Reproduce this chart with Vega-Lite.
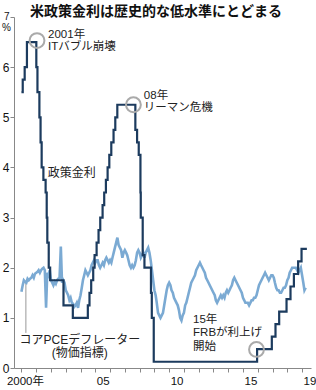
{
  "$schema": "https://vega.github.io/schema/vega-lite/v6.json",
  "width": 297,
  "height": 351,
  "autosize": "none",
  "padding": {"left": 14, "top": 17, "right": 5, "bottom": 22},
  "title": {"text": "米政策金利は歴史的な低水準にとどまる", "anchor": "start", "frame": "group", "dx": 16, "dy": 23, "offset": 1, "baseline": "bottom", "fontSize": 14, "fontWeight": "bold", "font": "Noto Sans CJK JP", "color": "#111"},
  "config": {"view": {"stroke": null}, "font": "Liberation Sans, Noto Sans CJK JP"},
  "datasets": {
    "pce": [
      {"date":"2000-01","v":1.52},{"date":"2000-02","v":1.65},{"date":"2000-03","v":1.75},{"date":"2000-04","v":1.72},{"date":"2000-05","v":1.70},{"date":"2000-06","v":1.78},{"date":"2000-07","v":1.75},{"date":"2000-08","v":1.78},{"date":"2000-09","v":1.80},{"date":"2000-10","v":1.85},{"date":"2000-11","v":1.80},{"date":"2000-12","v":1.88},
      {"date":"2001-01","v":1.90},{"date":"2001-02","v":1.92},{"date":"2001-03","v":1.95},{"date":"2001-04","v":1.90},{"date":"2001-05","v":1.95},{"date":"2001-06","v":1.98},{"date":"2001-07","v":2.00},{"date":"2001-08","v":1.95},{"date":"2001-09","v":1.20},{"date":"2001-10","v":1.90},{"date":"2001-11","v":1.85},{"date":"2001-12","v":1.95},
      {"date":"2002-01","v":1.75},{"date":"2002-02","v":1.70},{"date":"2002-03","v":1.65},{"date":"2002-04","v":1.72},{"date":"2002-05","v":1.68},{"date":"2002-06","v":1.75},{"date":"2002-07","v":1.78},{"date":"2002-08","v":1.80},{"date":"2002-09","v":2.42},{"date":"2002-10","v":1.70},{"date":"2002-11","v":1.75},{"date":"2002-12","v":1.70},
      {"date":"2003-01","v":1.55},{"date":"2003-02","v":1.50},{"date":"2003-03","v":1.45},{"date":"2003-04","v":1.35},{"date":"2003-05","v":1.40},{"date":"2003-06","v":1.30},{"date":"2003-07","v":1.28},{"date":"2003-08","v":1.22},{"date":"2003-09","v":1.25},{"date":"2003-10","v":1.30},{"date":"2003-11","v":1.20},{"date":"2003-12","v":1.35},
      {"date":"2004-01","v":1.45},{"date":"2004-02","v":1.60},{"date":"2004-03","v":1.75},{"date":"2004-04","v":1.85},{"date":"2004-05","v":1.95},{"date":"2004-06","v":1.90},{"date":"2004-07","v":1.85},{"date":"2004-08","v":1.90},{"date":"2004-09","v":1.95},{"date":"2004-10","v":2.05},{"date":"2004-11","v":2.10},{"date":"2004-12","v":2.15},
      {"date":"2005-01","v":2.10},{"date":"2005-02","v":2.15},{"date":"2005-03","v":2.15},{"date":"2005-04","v":2.05},{"date":"2005-05","v":2.00},{"date":"2005-06","v":2.05},{"date":"2005-07","v":2.10},{"date":"2005-08","v":2.05},{"date":"2005-09","v":2.15},{"date":"2005-10","v":2.20},{"date":"2005-11","v":2.15},{"date":"2005-12","v":2.10},
      {"date":"2006-01","v":2.15},{"date":"2006-02","v":2.10},{"date":"2006-03","v":2.20},{"date":"2006-04","v":2.30},{"date":"2006-05","v":2.40},{"date":"2006-06","v":2.50},{"date":"2006-07","v":2.60},{"date":"2006-08","v":2.45},{"date":"2006-09","v":2.40},{"date":"2006-10","v":2.35},{"date":"2006-11","v":2.20},{"date":"2006-12","v":2.30},
      {"date":"2007-01","v":2.35},{"date":"2007-02","v":2.30},{"date":"2007-03","v":2.25},{"date":"2007-04","v":2.15},{"date":"2007-05","v":2.05},{"date":"2007-06","v":2.00},{"date":"2007-07","v":2.05},{"date":"2007-08","v":2.00},{"date":"2007-09","v":2.05},{"date":"2007-10","v":2.15},{"date":"2007-11","v":2.30},{"date":"2007-12","v":2.35},
      {"date":"2008-01","v":2.30},{"date":"2008-02","v":2.20},{"date":"2008-03","v":2.25},{"date":"2008-04","v":2.30},{"date":"2008-05","v":2.20},{"date":"2008-06","v":2.30},{"date":"2008-07","v":2.35},{"date":"2008-08","v":2.40},{"date":"2008-09","v":2.30},{"date":"2008-10","v":2.15},{"date":"2008-11","v":1.95},{"date":"2008-12","v":1.75},
      {"date":"2009-01","v":1.55},{"date":"2009-02","v":1.45},{"date":"2009-03","v":1.30},{"date":"2009-04","v":1.10},{"date":"2009-05","v":1.05},{"date":"2009-06","v":1.00},{"date":"2009-07","v":1.05},{"date":"2009-08","v":1.10},{"date":"2009-09","v":1.25},{"date":"2009-10","v":1.40},{"date":"2009-11","v":1.55},{"date":"2009-12","v":1.65},
      {"date":"2010-01","v":1.70},{"date":"2010-02","v":1.65},{"date":"2010-03","v":1.55},{"date":"2010-04","v":1.50},{"date":"2010-05","v":1.40},{"date":"2010-06","v":1.35},{"date":"2010-07","v":1.30},{"date":"2010-08","v":1.25},{"date":"2010-09","v":1.15},{"date":"2010-10","v":1.00},{"date":"2010-11","v":0.95},{"date":"2010-12","v":1.05},
      {"date":"2011-01","v":1.10},{"date":"2011-02","v":1.25},{"date":"2011-03","v":1.30},{"date":"2011-04","v":1.40},{"date":"2011-05","v":1.50},{"date":"2011-06","v":1.60},{"date":"2011-07","v":1.70},{"date":"2011-08","v":1.75},{"date":"2011-09","v":1.80},{"date":"2011-10","v":1.85},{"date":"2011-11","v":1.95},{"date":"2011-12","v":2.00},
      {"date":"2012-01","v":2.05},{"date":"2012-02","v":2.10},{"date":"2012-03","v":2.05},{"date":"2012-04","v":2.00},{"date":"2012-05","v":1.95},{"date":"2012-06","v":1.90},{"date":"2012-07","v":1.80},{"date":"2012-08","v":1.75},{"date":"2012-09","v":1.70},{"date":"2012-10","v":1.65},{"date":"2012-11","v":1.60},{"date":"2012-12","v":1.55},
      {"date":"2013-01","v":1.50},{"date":"2013-02","v":1.45},{"date":"2013-03","v":1.35},{"date":"2013-04","v":1.30},{"date":"2013-05","v":1.35},{"date":"2013-06","v":1.40},{"date":"2013-07","v":1.45},{"date":"2013-08","v":1.40},{"date":"2013-09","v":1.45},{"date":"2013-10","v":1.40},{"date":"2013-11","v":1.50},{"date":"2013-12","v":1.55},
      {"date":"2014-01","v":1.50},{"date":"2014-02","v":1.55},{"date":"2014-03","v":1.60},{"date":"2014-04","v":1.65},{"date":"2014-05","v":1.75},{"date":"2014-06","v":1.80},{"date":"2014-07","v":1.75},{"date":"2014-08","v":1.70},{"date":"2014-09","v":1.65},{"date":"2014-10","v":1.60},{"date":"2014-11","v":1.55},{"date":"2014-12","v":1.50},
      {"date":"2015-01","v":1.40},{"date":"2015-02","v":1.35},{"date":"2015-03","v":1.30},{"date":"2015-04","v":1.30},{"date":"2015-05","v":1.30},{"date":"2015-06","v":1.25},{"date":"2015-07","v":1.30},{"date":"2015-08","v":1.35},{"date":"2015-09","v":1.35},{"date":"2015-10","v":1.40},{"date":"2015-11","v":1.40},{"date":"2015-12","v":1.45},
      {"date":"2016-01","v":1.55},{"date":"2016-02","v":1.65},{"date":"2016-03","v":1.70},{"date":"2016-04","v":1.75},{"date":"2016-05","v":1.80},{"date":"2016-06","v":1.85},{"date":"2016-07","v":1.90},{"date":"2016-08","v":1.85},{"date":"2016-09","v":1.80},{"date":"2016-10","v":1.75},{"date":"2016-11","v":1.80},{"date":"2016-12","v":1.85},
      {"date":"2017-01","v":1.85},{"date":"2017-02","v":1.80},{"date":"2017-03","v":1.70},{"date":"2017-04","v":1.60},{"date":"2017-05","v":1.55},{"date":"2017-06","v":1.55},{"date":"2017-07","v":1.50},{"date":"2017-08","v":1.50},{"date":"2017-09","v":1.55},{"date":"2017-10","v":1.60},{"date":"2017-11","v":1.60},{"date":"2017-12","v":1.65},
      {"date":"2018-01","v":1.75},{"date":"2018-02","v":1.80},{"date":"2018-03","v":1.90},{"date":"2018-04","v":1.95},{"date":"2018-05","v":2.00},{"date":"2018-06","v":2.00},{"date":"2018-07","v":2.00},{"date":"2018-08","v":2.00},{"date":"2018-09","v":1.95},{"date":"2018-10","v":1.90},{"date":"2018-11","v":1.95},{"date":"2018-12","v":2.00},
      {"date":"2019-01","v":1.85},{"date":"2019-02","v":1.70},{"date":"2019-03","v":1.55},{"date":"2019-04","v":1.60}
    ],
    "ffr": [
      {"date":"2000-01-01","v":5.5},{"date":"2000-02-02","v":5.75},{"date":"2000-03-21","v":6.0},{"date":"2000-05-16","v":6.5},
      {"date":"2001-01-03","v":6.0},{"date":"2001-01-31","v":5.5},{"date":"2001-03-20","v":5.0},{"date":"2001-04-18","v":4.5},{"date":"2001-05-15","v":4.0},{"date":"2001-06-27","v":3.75},{"date":"2001-08-21","v":3.5},{"date":"2001-09-17","v":3.0},{"date":"2001-10-02","v":2.5},{"date":"2001-11-06","v":2.0},{"date":"2001-12-11","v":1.75},
      {"date":"2002-11-06","v":1.25},{"date":"2003-06-25","v":1.0},
      {"date":"2004-06-30","v":1.25},{"date":"2004-08-10","v":1.5},{"date":"2004-09-21","v":1.75},{"date":"2004-11-10","v":2.0},{"date":"2004-12-14","v":2.25},
      {"date":"2005-02-02","v":2.5},{"date":"2005-03-22","v":2.75},{"date":"2005-05-03","v":3.0},{"date":"2005-06-30","v":3.25},{"date":"2005-08-09","v":3.5},{"date":"2005-09-20","v":3.75},{"date":"2005-11-01","v":4.0},{"date":"2005-12-13","v":4.25},
      {"date":"2006-01-31","v":4.5},{"date":"2006-03-28","v":4.75},{"date":"2006-05-10","v":5.0},{"date":"2006-06-29","v":5.25},
      {"date":"2007-09-18","v":4.75},{"date":"2007-10-31","v":4.5},{"date":"2007-12-11","v":4.25},
      {"date":"2008-01-22","v":3.5},{"date":"2008-01-30","v":3.0},{"date":"2008-03-18","v":2.25},{"date":"2008-04-30","v":2.0},{"date":"2008-10-08","v":1.5},{"date":"2008-10-29","v":1.0},{"date":"2008-12-16","v":0.125},
      {"date":"2015-12-16","v":0.375},{"date":"2016-12-14","v":0.625},{"date":"2017-03-15","v":0.875},{"date":"2017-06-14","v":1.125},{"date":"2017-12-13","v":1.375},
      {"date":"2018-03-21","v":1.625},{"date":"2018-06-13","v":1.875},{"date":"2018-09-26","v":2.125},{"date":"2018-12-19","v":2.375},{"date":"2019-04-30","v":2.375}
    ],
    "circles": [
      {"date":"2001-01-20","v":6.53},{"date":"2007-08-01","v":5.25},{"date":"2015-12-01","v":0.37}
    ],
    "notes": [
      {"date":"2001-10-20","v":6.65,"t":"2001年","a":"left"},
      {"date":"2001-10-20","v":6.40,"t":"ITバブル崩壊","a":"left"},
      {"date":"2008-04-15","v":5.43,"t":"08年","a":"left"},
      {"date":"2008-04-15","v":5.18,"t":"リーマン危機","a":"left"},
      {"date":"2003-06-01","v":3.89,"t":"政策金利","a":"center"},
      {"date":"2003-12-15","v":0.55,"t":"コアPCEデフレーター","a":"center"},
      {"date":"2003-12-15","v":0.30,"t":"(物価指標)","a":"center"},
      {"date":"2011-08-15","v":0.95,"t":"15年","a":"left"},
      {"date":"2011-08-15","v":0.69,"t":"FRBが利上げ","a":"left"},
      {"date":"2011-08-15","v":0.42,"t":"開始","a":"left"}
    ],
    "leader": [{"date":"2000-04-20","v":0.7,"v2":1.7}]
  },
  "encoding": {
    "x": {"field": "date", "type": "temporal",
      "scale": {"type": "utc", "domain": ["1999-07-01", "2019-08-10"]},
      "axis": {"title": null, "grid": false, "tickCount": {"interval": "year", "step": 1},
        "labelExpr": "utcyear(datum.value) == 2000 ? '2000年' : (utcyear(datum.value) % 5 == 0 || utcyear(datum.value) == 2019) ? utcFormat(datum.value, '%y') : ''",
        "labelOffset": {"condition": {"test": "utcyear(datum.value) == 2000", "value": 3.5}, "value": 7.4},
        "labelOverlap": false, "labelFlush": false, "labelBound": false,
        "domainColor": "#888", "tickColor": "#888", "tickSize": 4, "labelPadding": 3,
        "labelFontSize": 11.5, "labelColor": "#111", "labelFont": "Liberation Sans, Noto Sans CJK JP"}
    },
    "y": {"field": "v", "type": "quantitative",
      "scale": {"domain": [0, 7], "nice": false, "zero": true},
      "axis": {"title": "%", "titleAngle": 0, "titleX": -8, "titleY": 10, "titleAlign": "center", "titleBaseline": "middle",
        "titleFontSize": 10, "titleFontWeight": "normal", "titleColor": "#111", "titleFont": "Liberation Sans",
        "values": [0,1,2,3,4,5,6,7], "grid": false,
        "labelOffset": {"condition": {"test": "datum.value == 7", "value": -1}, "value": 0},
        "labelFontSize": {"condition": {"test": "datum.value == 7", "value": 10}, "value": 12},
        "domainColor": "#888", "tickColor": "#888", "tickSize": 4, "labelPadding": 1,
        "labelColor": "#111", "labelFont": "Liberation Sans"}
    }
  },
  "layer": [
    {"data": {"name": "leader"}, "mark": {"type": "rule", "color": "#999", "strokeWidth": 1},
      "encoding": {"y2": {"field": "v2"}}},
    {"data": {"name": "pce"}, "mark": {"type": "line", "color": "#7baad3", "strokeWidth": 2.6}},
    {"data": {"name": "ffr"}, "mark": {"type": "line", "color": "#1c3b5e", "strokeWidth": 2.2, "interpolate": "step-after"}},
    {"data": {"name": "circles"}, "mark": {"type": "point", "shape": "circle", "filled": false, "size": 220, "stroke": "#aaaaaa", "strokeWidth": 2, "opacity": 1}},
    {"data": {"name": "notes"}, "transform": [{"filter": "datum.a == 'left'"}],
      "mark": {"type": "text", "fontSize": 11.5, "color": "#222", "font": "Liberation Sans, Noto Sans CJK JP", "baseline": "middle", "align": "left"},
      "encoding": {"text": {"field": "t"}}},
    {"data": {"name": "notes"}, "transform": [{"filter": "datum.a == 'center'"}],
      "mark": {"type": "text", "fontSize": 12, "color": "#222", "font": "Liberation Sans, Noto Sans CJK JP", "baseline": "middle", "align": "center"},
      "encoding": {"text": {"field": "t"}}}
  ]
}
